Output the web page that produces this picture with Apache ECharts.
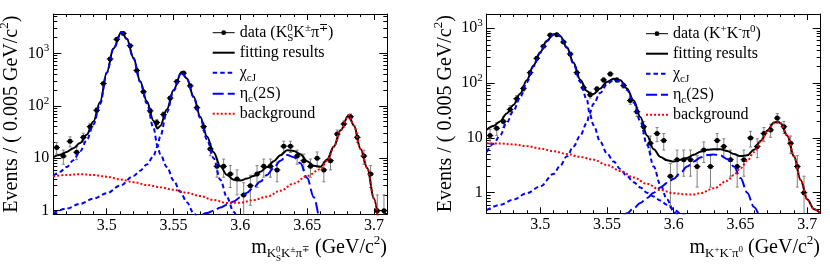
<!DOCTYPE html>
<html><head><meta charset="utf-8">
<script src="https://cdn.jsdelivr.net/npm/echarts@6/dist/echarts.min.js"></script>
<style>html,body{margin:0;padding:0;background:#fff}#c{width:830px;height:267px}</style>
</head><body><div id="c"></div>
<script>
const SERIF = "'Liberation Serif','Times New Roman',serif";

// ---- data (bin centres, 0.005 GeV bins) ----
const binCenters = [3.4625,3.4675,3.4725,3.4775,3.4825,3.4875,3.4925,3.4975,3.5025,3.5075,
  3.5125,3.5175,3.5225,3.5275,3.5325,3.5375,3.5425,3.5475,3.5525,3.5575,
  3.5625,3.5675,3.5725,3.5775,3.5825,3.5875,3.5925,3.5975,3.6025,3.6075,
  3.6125,3.6175,3.6225,3.6275,3.6325,3.6375,3.6425,3.6475,3.6525,3.6575,
  3.6625,3.6675,3.6725,3.6775,3.6825,3.6875,3.6925,3.6975,3.7025,3.7075];
const dataLeft = [16,11,21,13,25,40,82,265,780,1850,
  2400,1400,470,185,80,48,68,140,290,420,
  240,92,40,15,7,7,5,4,2,3,
  5,7,7,6,17,17,11,9,7,10,
  6,9,29,45,62,25,11,5,1,1];
const dataRight = [11,15,20,33,52,80,155,283,470,750,
  760,560,340,155,82,61,78,114,147,114,
  90,48,30,16,8,12,9,2,4,4,
  4,3,6,3,9,7,4,3,4,10,
  7,12,14,23,16,8,3,1,null,null];

// ---- fit curves, left panel (mass, events) ----
const fitLeft = [[3.46,10.5],[3.465,11.7],[3.47,13.2],[3.475,15.5],[3.48,19.5],[3.485,28],[3.49,50],[3.495,118],
  [3.5,430],[3.505,1230],[3.511,2550],[3.515,1900],[3.52,820],[3.525,295],[3.53,122],[3.535,52],[3.538,37],
  [3.54,41],[3.545,85],[3.55,200],[3.556,440],[3.56,330],[3.565,150],[3.57,62],[3.575,26],[3.58,13],[3.585,7],
  [3.59,4.8],[3.595,3.9],[3.6,3.75],[3.605,4.1],[3.61,4.6],[3.615,5.5],[3.62,6.8],[3.625,8.8],[3.63,11.4],
  [3.635,14.2],[3.64,13.8],[3.645,11.9],[3.65,8.8],[3.655,7.2],[3.66,6.9],[3.665,9.5],[3.67,16.8],[3.675,34],
  [3.681,66],[3.685,42],[3.69,15],[3.695,6.5],[3.7,1.7],[3.705,0.25]];
const chic1Left = [[3.46,4.6],[3.465,5.5],[3.47,6.8],[3.475,9.2],[3.48,13.5],[3.485,22],[3.49,44],[3.495,108],
  [3.5,420],[3.505,1220],[3.511,2540],[3.515,1890],[3.52,810],[3.525,285],[3.53,112],[3.535,38],[3.538,17],
  [3.54,12],[3.545,6.8],[3.55,3.8],[3.555,2.3],[3.56,1.45],[3.565,0.9],[3.57,0.6],[3.575,0.4]];
const chic2Left = [[3.46,0.9],[3.47,1.1],[3.48,1.35],[3.49,1.7],[3.5,2.15],[3.51,3.0],[3.52,4.6],[3.525,5.8],
  [3.53,7.6],[3.535,11],[3.538,17],[3.54,26],[3.545,75],[3.55,193],[3.556,435],[3.56,325],[3.565,146],
  [3.57,59],[3.575,23],[3.58,10],[3.585,3.9],[3.59,1.8],[3.595,0.95],[3.6,0.5],[3.605,0.3]];
const etaLeft = [[3.572,0.85],[3.575,0.9],[3.58,1.0],[3.585,1.15],[3.59,1.3],[3.595,1.5],[3.6,1.8],[3.605,2.2],
  [3.61,2.8],[3.615,3.6],[3.62,4.8],[3.625,6.6],[3.63,9],[3.635,11.5],[3.64,10.5],[3.645,8],[3.65,4.2],
  [3.655,1.8],[3.66,0.65],[3.665,0.2]];
const bkgLeft = [[3.46,4.5],[3.47,4.8],[3.48,4.95],[3.49,4.8],[3.5,4.45],[3.51,3.95],[3.52,3.5],[3.53,3.1],
  [3.54,2.8],[3.55,2.5],[3.56,2.2],[3.57,1.9],[3.58,1.6],[3.59,1.4],[3.6,1.42],[3.61,1.6],[3.62,1.85],
  [3.63,2.4],[3.64,3.3],[3.65,4.6],[3.66,6.2],[3.665,9],[3.67,16.5],[3.675,34],[3.681,66],[3.685,42],
  [3.69,15],[3.695,6.5],[3.7,1.7],[3.705,0.25]];

// ---- fit curves, right panel ----
const fitRight = [[3.46,14],[3.465,16.5],[3.47,20],[3.475,28],[3.48,40],[3.485,64],[3.49,112],[3.495,210],
  [3.5,365],[3.505,590],[3.51,780],[3.5125,800],[3.515,720],[3.52,450],[3.525,235],[3.53,115],[3.535,72],
  [3.538,62],[3.54,63],[3.545,80],[3.55,105],[3.555,120],[3.56,112],[3.565,80],[3.57,48],[3.575,24],[3.58,11],
  [3.585,6.2],[3.59,4.5],[3.595,3.9],[3.6,3.7],[3.605,4.0],[3.61,4.3],[3.615,4.9],[3.62,5.6],[3.625,6.1],
  [3.63,6.2],[3.635,6.2],[3.64,5.75],[3.645,5.1],[3.65,4.65],[3.655,4.8],[3.66,6.05],[3.665,8.8],[3.67,13.5],
  [3.675,19],[3.678,20],[3.68,18.5],[3.685,11],[3.69,4.6],[3.695,1.7],[3.7,0.75],[3.705,0.5],[3.71,0.42]];
const chic1Right = [[3.46,5.5],[3.465,7.8],[3.47,11],[3.475,19],[3.48,31],[3.485,55],[3.49,103],[3.495,200],
  [3.5,355],[3.505,580],[3.51,770],[3.5125,790],[3.515,710],[3.52,440],[3.525,225],[3.53,105],[3.535,50],
  [3.537,28],[3.54,17],[3.545,8.5],[3.55,5.2],[3.555,3.7],[3.56,2.7],[3.565,2.0],[3.57,1.55],[3.575,1.25],
  [3.58,1.0],[3.585,0.85],[3.59,0.72],[3.595,0.6],[3.6,0.5],[3.605,0.42],[3.61,0.36]];
const chic2Right = [[3.46,0.48],[3.47,0.6],[3.48,0.75],[3.49,0.98],[3.5,1.3],[3.51,2.2],[3.515,3.1],[3.52,4.6],
  [3.525,7],[3.53,11],[3.535,19],[3.537,28],[3.54,42],[3.545,66],[3.55,96],[3.555,113],[3.56,107],[3.565,75],
  [3.57,44],[3.575,20],[3.58,7.5],[3.585,3],[3.59,1.4],[3.595,0.75],[3.6,0.45],[3.605,0.3]];
const etaRight = [[3.562,0.38],[3.565,0.42],[3.57,0.52],[3.575,0.65],[3.58,0.8],[3.585,1.0],[3.59,1.25],
  [3.595,1.5],[3.6,1.8],[3.605,2.3],[3.61,3.0],[3.615,3.7],[3.62,4.4],[3.625,4.85],[3.63,5.0],[3.635,4.8],
  [3.64,4.1],[3.645,3.0],[3.65,1.85],[3.655,1.0],[3.66,0.55],[3.665,0.32]];
const bkgRight = [[3.46,8],[3.47,7.9],[3.48,7.6],[3.49,7.1],[3.5,6.4],[3.51,5.7],[3.52,5.1],[3.53,4.5],
  [3.54,4.0],[3.55,3.2],[3.56,2.5],[3.57,1.9],[3.58,1.45],[3.59,1.12],[3.6,0.98],[3.61,0.93],[3.615,0.93],
  [3.62,0.98],[3.63,1.2],[3.64,1.65],[3.645,2.1],[3.65,2.8],[3.655,3.8],[3.66,5.5],[3.665,8.5],[3.67,13],
  [3.675,18.5],[3.678,19.5],[3.68,18.5],[3.685,11],[3.69,4.6],[3.695,1.7],[3.7,0.75],[3.705,0.5],[3.71,0.42]];

// ---- ticks ----
const xMajorTicks = [3.5,3.55,3.6,3.65,3.7];
const xMinorTicks = [3.47,3.48,3.49,3.51,3.52,3.53,3.54,3.56,3.57,3.58,3.59,3.61,3.62,3.63,3.64,3.66,3.67,3.68,3.69];
const yMajorLeft = [1,10,100,1000];
const yMinorLeft = [0.9,2,3,4,5,6,7,8,9,20,30,40,50,60,70,80,90,200,300,400,500,600,700,800,900,2000,3000,4000,5000];
const yMajorRight = [1,10,100,1000];
const yMinorRight = [0.5,0.6,0.7,0.8,0.9,2,3,4,5,6,7,8,9,20,30,40,50,60,70,80,90,200,300,400,500,600,700,800,900];
const yRangeLeft = [0.854, 5620];
const yRangeRight = [0.421, 1820];

const lg = v => Math.log10(v);
const toLog = arr => arr.map(p => [p[0], lg(p[1])]);

const grids = [
  {left:53.3, top:14, width:334, height:200.3, outerBoundsMode:'none', containLabel:false},
  {left:486.7, top:14, width:334, height:199.3, outerBoundsMode:'none', containLabel:false}
];

const nameRich = {
  sub:{fontFamily:SERIF,fontSize:13,padding:[12,0,0,0],color:'#000'},
  ssup:{fontFamily:SERIF,fontSize:9,padding:[4,0,0,0],width:0,color:'#000'},
  ssup2:{fontFamily:SERIF,fontSize:9,padding:[4,0,0,0],color:'#000'},
  ssub:{fontFamily:SERIF,fontSize:9,padding:[22,0,0,0],color:'#000'},
  sup:{fontFamily:SERIF,fontSize:13,padding:[0,0,14,0],color:'#000'}
};

const xNames = [
  'm{sub|K}{ssup|0}{ssub|S}{sub|K}{ssup2|±}{sub|π}{ssup2|∓} (GeV/c{sup|2})',
  'm{sub|K}{ssup2|+}{sub|K}{ssup2|-}{sub|π}{ssup2|0} (GeV/c{sup|2})'
];
const yName = 'Events / ( 0.005 GeV/c{sup|2})';

const xAxes = [], yAxes = [];
[0,1].forEach(g => {
  const base = {type:'value', gridIndex:g, min:3.46, max:3.71, splitLine:{show:false}};
  xAxes.push(Object.assign({}, base, {
    position:'bottom',
    axisLine:{show:true,onZero:false,lineStyle:{color:'#000',width:1}},
    axisTick:{show:true,inside:true,length:6,customValues:xMajorTicks,lineStyle:{color:'#000',width:1}},
    axisLabel:{show:true,customValues:xMajorTicks,margin:3,color:'#000',fontSize:16,fontFamily:SERIF,formatter:v=>String(v)}
  }));
  xAxes.push(Object.assign({}, base, {
    position:'bottom', axisLine:{show:false,onZero:false},
    axisTick:{show:true,inside:true,length:3,customValues:xMinorTicks,lineStyle:{color:'#000',width:1}},
    axisLabel:{show:false}
  }));
  xAxes.push(Object.assign({}, base, {
    position:'top', axisLine:{show:true,onZero:false,lineStyle:{color:'#000',width:1}},
    axisTick:{show:true,inside:true,length:6,customValues:xMajorTicks,lineStyle:{color:'#000',width:1}},
    axisLabel:{show:false}
  }));
  xAxes.push(Object.assign({}, base, {
    position:'top', axisLine:{show:false,onZero:false},
    axisTick:{show:true,inside:true,length:3,customValues:xMinorTicks,lineStyle:{color:'#000',width:1}},
    axisLabel:{show:false}
  }));

  const rng = g === 0 ? yRangeLeft : yRangeRight;
  const maj = (g === 0 ? yMajorLeft : yMajorRight).map(lg);
  const mnr = (g === 0 ? yMinorLeft : yMinorRight).map(lg);
  const ybase = {type:'value', gridIndex:g, min:lg(rng[0]), max:lg(rng[1]), splitLine:{show:false}};
  yAxes.push(Object.assign({}, ybase, {
    position:'left',
    axisLine:{show:true,onZero:false,lineStyle:{color:'#000',width:1}},
    axisTick:{show:true,inside:true,length:8,customValues:maj,lineStyle:{color:'#000',width:1}},
    axisLabel:{show:true,customValues:maj,margin:4,color:'#000',fontSize:16,fontFamily:SERIF,
      formatter:v=>{const n=Math.round(v);return n===0?'1':(n===1?'10':'10{sup|'+n+'}');},
      rich:{sup:{fontFamily:SERIF,fontSize:11,padding:[0,0,10,0],color:'#000'}}},
    name:yName, nameLocation:'middle', nameRotate:90, nameGap: g===0 ? 22 : 24,
    nameTextStyle:{fontFamily:SERIF,fontSize:20,color:'#000',lineHeight:24,rich:{sup:{fontFamily:SERIF,fontSize:13,padding:[0,0,14,0],color:'#000'}}}
  }));
  yAxes.push(Object.assign({}, ybase, {
    position:'left', axisLine:{show:false,onZero:false},
    axisTick:{show:true,inside:true,length:4,customValues:mnr,lineStyle:{color:'#000',width:1}},
    axisLabel:{show:false}
  }));
  yAxes.push(Object.assign({}, ybase, {
    position:'right', axisLine:{show:true,onZero:false,lineStyle:{color:'#000',width:1}},
    axisTick:{show:true,inside:true,length:8,customValues:maj,lineStyle:{color:'#000',width:1}},
    axisLabel:{show:false}
  }));
  yAxes.push(Object.assign({}, ybase, {
    position:'right', axisLine:{show:false,onZero:false},
    axisTick:{show:true,inside:true,length:4,customValues:mnr,lineStyle:{color:'#000',width:1}},
    axisLabel:{show:false}
  }));
});

function errorBars(values, g) {
  const rng = g === 0 ? yRangeLeft : yRangeRight;
  const yMin = lg(rng[0]), yMax = lg(rng[1]);
  const pts = [];
  binCenters.forEach((m, i) => { if (values[i] != null) pts.push([m, lg(values[i]), values[i]]); });
  return {
    type:'custom', xAxisIndex:g*4, yAxisIndex:g*4, silent:true, z:2,
    data:pts, encode:{x:0, y:1},
    renderItem(params, api) {
      const m = api.value(0), n = api.value(2);
      const e = Math.sqrt(n);
      const loRaw = n - e;
      const lo = loRaw > 0 ? Math.max(lg(loRaw), yMin) : yMin;
      const hi = Math.min(lg(n + e), yMax);
      const c = api.coord([m, lg(n)]);
      const l = api.coord([m - 0.0025, lg(n)]);
      const r = api.coord([m + 0.0025, lg(n)]);
      const t = api.coord([m, hi]);
      const b = api.coord([m, lo]);
      const gray = {stroke:'#808080', lineWidth:1};
      const kids = [
        {type:'line', shape:{x1:c[0],y1:t[1],x2:c[0],y2:b[1]}, style:gray},
        {type:'line', shape:{x1:c[0]-1.5,y1:t[1],x2:c[0]+1.5,y2:t[1]}, style:gray},
        {type:'line', shape:{x1:l[0],y1:c[1],x2:r[0],y2:c[1]}, style:{stroke:'#000',lineWidth:1}}
      ];
      if (lo > yMin) kids.push({type:'line', shape:{x1:c[0]-1.5,y1:b[1],x2:c[0]+1.5,y2:b[1]}, style:gray});
      return {type:'group', children:kids};
    }
  };
}
function dots(name, values, g) {
  const pts = [];
  binCenters.forEach((m, i) => { if (values[i] != null) pts.push([m, lg(values[i])]); });
  return {type:'line', name, xAxisIndex:g*4, yAxisIndex:g*4, data:pts, symbol:'circle', symbolSize:5,
    itemStyle:{color:'#000'}, lineStyle:{color:'#000', width:1, opacity:0}, silent:true, z:3, animation:false};
}
function curve(name, arr, g, color, dash) {
  return {type:'line', name, xAxisIndex:g*4, yAxisIndex:g*4, data:toLog(arr), smooth:0.35, smoothMonotone:'x',
    symbol:'none', itemStyle:{color}, lineStyle:{color, width:2, type:dash}, silent:true, z:4, clip:true};
}

const series = [
  errorBars(dataLeft, 0), dots('dataL', dataLeft, 0),
  curve('fit', fitLeft, 0, '#000', 'solid'),
  curve('chi', chic1Left, 0, '#0000ff', [4.5,3]),
  curve('chi', chic2Left, 0, '#0000ff', [4.5,3]),
  curve('eta', etaLeft, 0, '#0000ff', [11,4]),
  curve('bg', bkgLeft, 0, '#ff0000', [2,2]),
  errorBars(dataRight, 1), dots('dataR', dataRight, 1),
  curve('fit', fitRight, 1, '#000', 'solid'),
  curve('chi', chic1Right, 1, '#0000ff', [4.5,3]),
  curve('chi', chic2Right, 1, '#0000ff', [4.5,3]),
  curve('eta', etaRight, 1, '#0000ff', [11,4]),
  curve('bg', bkgRight, 1, '#ff0000', [2,2])
];

const legendRich = {
  sup:{fontFamily:SERIF,fontSize:11,padding:[0,0,10,0],lineHeight:19,color:'#000'},
  supz:{fontFamily:SERIF,fontSize:11,padding:[0,0,10,0],lineHeight:19,width:0,color:'#000'},
  sub:{fontFamily:SERIF,fontSize:11,padding:[10,0,0,0],lineHeight:19,color:'#000'}
};
const legendText = {
  dataL:'data (K{supz|0}{sub|S}K{sup|±}π{sup|∓})',
  dataR:'data (K{sup|+}K{sup|-}π{sup|0})',
  fit:'fitting results', chi:'χ{sub|cJ}', eta:'η{sub|c}(2S)', bg:'background'
};
function legendFor(dataName, left, top) {
  const hide = {opacity:0};
  return {
    left, top, orient:'vertical', padding:0, itemGap:0, itemWidth:22, itemHeight:6, selectedMode:false,
    data:[{name:dataName, lineStyle:{color:'#000', width:1, opacity:1, type:'solid'}},
      {name:'fit', itemStyle:hide}, {name:'chi', itemStyle:hide}, {name:'eta', itemStyle:hide}, {name:'bg', itemStyle:hide}],
    formatter:n => legendText[n],
    textStyle:{fontFamily:SERIF, fontSize:16, color:'#000', lineHeight:19, rich:legendRich}
  };
}
function xTitle(text, right) {
  return {text, right, top:235.5, padding:0, itemGap:0,
    textStyle:{fontFamily:SERIF, fontSize:20, fontWeight:'normal', color:'#000', lineHeight:24, rich:nameRich}};
}

const chart = echarts.init(document.getElementById('c'), null, {renderer:'canvas'});
chart.setOption({
  animation:false,
  backgroundColor:'#fff',
  title:[xTitle(xNames[0], 443), xTitle(xNames[1], 10)],
  grid:grids,
  xAxis:xAxes,
  yAxis:yAxes,
  legend:[legendFor('dataL', 211.7, 22.2), legendFor('dataR', 645, 23.2)],
  series
});
</script>
</body></html>
